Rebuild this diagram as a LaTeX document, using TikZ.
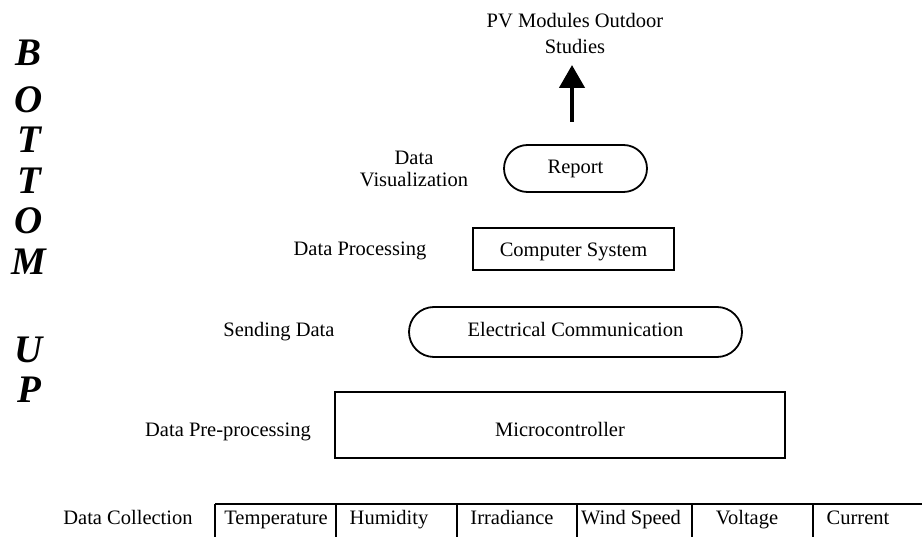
\documentclass[tikz,border=0pt]{standalone}
\usepackage{fontspec}
\setmainfont{Liberation Serif}
\usetikzlibrary{arrows.meta}
\begin{document}
\begin{tikzpicture}[x=1pt,y=-1pt,
  lbl/.style={font=\fontsize{20.5}{22}\selectfont, inner sep=0pt, align=center},
  txt/.style={lbl, text height=14pt, text depth=4pt},
  box/.style={draw, line width=1.8pt, inner sep=0pt, text height=14pt, text depth=4pt, font=\fontsize{20.5}{22}\selectfont},
  big/.style={font=\fontsize{39}{42}\selectfont\bfseries\itshape, inner sep=0pt, text height=26pt, text depth=0pt},
  grid/.style={line width=1.8pt}]
\useasboundingbox (0,0) rectangle (922,537);
\clip (0,0) rectangle (922,537);
% BOTTOM UP letters
\node[big] (l1) at (29,53) {B};
\node[big] (l2) at (29,100) {O};
\node[big] (l3) at (29,140) {T};
\node[big] (l4) at (29,181) {T};
\node[big] (l5) at (29,221) {O};
\node[big] (l6) at (29,262) {M};
\node[big] (l7) at (29,350) {U};
\node[big] (l8) at (29,390) {P};
% top text and arrow
\node[lbl, font=\fontsize{20.5}{26}\selectfont] (pv) at (575,33) {PV Modules Outdoor\\Studies};
\coordinate (arrS) at (572,122);
\coordinate (arrE) at (572,65);
\draw[line width=4.5pt, -{Triangle[width=25pt,length=23pt]}] (arrS) -- (arrE);
% boxes
\node[box, minimum width=143pt, minimum height=47pt, rounded corners=23.5pt] (report) at (575.5,168.5) {Report};
\node[box, minimum width=201pt, minimum height=42pt, text height=20pt] (comp) at (573.5,249) {Computer System};
\node[box, minimum width=333pt, minimum height=50pt, rounded corners=25pt] (elec) at (575.5,332) {Electrical Communication};
\node[box, minimum width=450pt, minimum height=66pt, text height=28pt] (micro) at (560,425) {Microcontroller};
% left labels
\node[lbl] (vis) at (414,169) {Data\\Visualization};
\node[txt] (proc) at (360,251) {Data Processing};
\node[txt] (send) at (279,332) {Sending Data};
\node[txt] (pre) at (228,432) {Data Pre-processing};
\node[txt] (coll) at (128,519) {Data Collection};
% data collection table
\draw[grid] (215,504) -- (930,504);
\foreach \xx in {215,336,457,577,692,813}{\draw[grid] (\xx,504) -- (\xx,545);}
\node[txt] (t1) at (276,519) {Temperature};
\node[txt] (t2) at (389,519) {Humidity};
\node[txt] (t3) at (512,519) {Irradiance};
\node[txt] (t4) at (631,519) {Wind Speed};
\node[txt] (t5) at (747,519) {Voltage};
\node[txt] (t6) at (858,519) {Current};
\end{tikzpicture}
\end{document}
